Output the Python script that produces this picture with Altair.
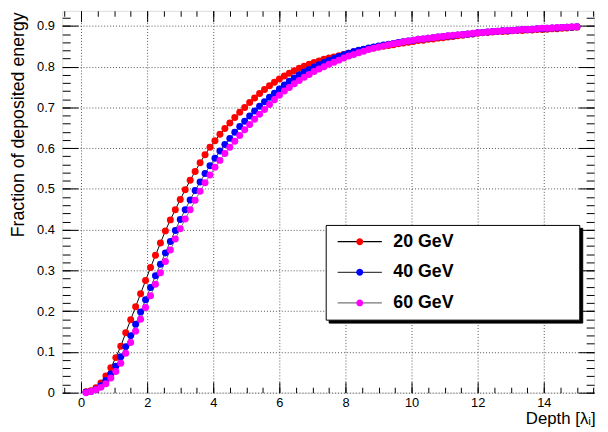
import altair as alt
import pandas as pd

# ---- data ----
DEPTH = [round(0.15 * (i + 1), 2) for i in range(100)]
SERIES = ["20 GeV", "40 GeV", "60 GeV"]

E20 = [0.002, 0.005, 0.012, 0.024, 0.041, 0.061, 0.086, 0.114, 0.147, 0.179,
       0.211, 0.243, 0.275, 0.307, 0.337, 0.367, 0.397, 0.424, 0.449, 0.474,
       0.498, 0.521, 0.543, 0.564, 0.584, 0.602, 0.618, 0.634, 0.648, 0.662,
       0.675, 0.688, 0.700, 0.712, 0.723, 0.734, 0.744, 0.753, 0.762, 0.770,
       0.777, 0.784, 0.790, 0.796, 0.801, 0.806, 0.810, 0.814, 0.818, 0.821,
       0.824, 0.827, 0.830, 0.833, 0.836, 0.839, 0.842, 0.844, 0.846, 0.848,
       0.850, 0.852, 0.854, 0.856, 0.858, 0.860, 0.862, 0.864, 0.865, 0.867,
       0.868, 0.870, 0.871, 0.873, 0.874, 0.876, 0.877, 0.879, 0.880, 0.882,
       0.883, 0.884, 0.885, 0.886, 0.886, 0.887, 0.888, 0.889, 0.889, 0.890,
       0.890, 0.891, 0.891, 0.892, 0.893, 0.893, 0.894, 0.895, 0.896, 0.897]

E40 = [0.001, 0.003, 0.008, 0.017, 0.030, 0.046, 0.065, 0.088, 0.113, 0.140,
       0.168, 0.198, 0.228, 0.258, 0.287, 0.315, 0.343, 0.371, 0.398, 0.425,
       0.449, 0.473, 0.496, 0.517, 0.538, 0.557, 0.575, 0.593, 0.609, 0.624,
       0.639, 0.653, 0.666, 0.679, 0.691, 0.703, 0.714, 0.725, 0.735, 0.745,
       0.755, 0.764, 0.772, 0.780, 0.787, 0.793, 0.799, 0.805, 0.810, 0.815,
       0.820, 0.825, 0.829, 0.833, 0.837, 0.840, 0.843, 0.846, 0.848, 0.851,
       0.853, 0.855, 0.857, 0.859, 0.861, 0.863, 0.865, 0.867, 0.868, 0.870,
       0.871, 0.873, 0.874, 0.875, 0.876, 0.878, 0.879, 0.880, 0.881, 0.883,
       0.884, 0.885, 0.886, 0.887, 0.888, 0.888, 0.889, 0.890, 0.891, 0.891,
       0.892, 0.893, 0.893, 0.894, 0.895, 0.895, 0.896, 0.897, 0.897, 0.898]

E60 = [0.000, 0.003, 0.007, 0.013, 0.022, 0.036, 0.052, 0.072, 0.097, 0.123,
       0.151, 0.180, 0.209, 0.238, 0.266, 0.294, 0.322, 0.350, 0.377, 0.402,
       0.426, 0.449, 0.472, 0.494, 0.515, 0.534, 0.553, 0.570, 0.587, 0.602,
       0.617, 0.631, 0.645, 0.658, 0.671, 0.683, 0.695, 0.707, 0.719, 0.730,
       0.740, 0.749, 0.758, 0.766, 0.774, 0.781, 0.788, 0.794, 0.800, 0.806,
       0.811, 0.816, 0.821, 0.826, 0.830, 0.834, 0.838, 0.842, 0.845, 0.848,
       0.851, 0.854, 0.856, 0.858, 0.861, 0.863, 0.865, 0.867, 0.868, 0.870,
       0.871, 0.873, 0.874, 0.876, 0.877, 0.878, 0.879, 0.880, 0.882, 0.883,
       0.884, 0.885, 0.886, 0.887, 0.888, 0.889, 0.889, 0.890, 0.891, 0.891,
       0.892, 0.893, 0.894, 0.894, 0.895, 0.896, 0.896, 0.897, 0.898, 0.898]

MARKER_COLORS = ["#ff0000", "#0000ff", "#ff00ff"]
LINE_COLORS = ["#000000", "#444444", "#777777"]

X_MAJOR = [0, 2, 4, 6, 8, 10, 12, 14]
X_MINOR = [round(-0.5 + 0.5 * i, 2) for i in range(33)]
Y_MAJOR = [round(0.1 * i, 2) for i in range(10)]
Y_MINOR = [round(0.02 * i, 2) for i in range(47)]

rows = []
for name, vals in zip(SERIES, [E20, E40, E60]):
    for d, v in zip(DEPTH, vals):
        rows.append({"depth": d, "frac": v, "series": name,
                     "series_fill": name, "series_shape": name})
df = pd.DataFrame(rows)

FONT = "Liberation Sans"
SX = alt.Scale(domain=[-0.57, 15.52], nice=False, zero=False)
SY = alt.Scale(domain=[0, 0.937], nice=False, zero=False)


def tick_axis(orient, values, size):
    return alt.Axis(orient=orient, values=values, offset=-size, tickSize=size,
                    ticks=True, labels=False, domain=False, grid=False,
                    title=None, tickColor="black", tickWidth=1)


AX_X_LAB = alt.Axis(orient="bottom", values=X_MAJOR, ticks=False, tickSize=0,
                    domain=False, grid=True, gridDash=[1, 2], gridColor="#555555",
                    gridWidth=1, labelFont=FONT, labelFontSize=13, labelColor="black",
                    labelPadding=4, labelFlush=False, labelOverlap=False, format="~g",
                    title="Depth [λᵢ]", titleFont=FONT, titleFontSize=17,
                    titleFontWeight="normal", titleColor="black", titleX=540, titleY=31,
                    titleAlign="right", titleBaseline="alphabetic")
AX_Y_LAB = alt.Axis(orient="left", values=Y_MAJOR, ticks=False, tickSize=0,
                    domain=False, grid=True, gridDash=[1, 2], gridColor="#555555",
                    gridWidth=1, labelFont=FONT, labelFontSize=13, labelColor="black",
                    labelPadding=8, labelFlush=False, labelOverlap=False, format="~g",
                    title="Fraction of deposited energy", titleFont=FONT,
                    titleFontSize=18, titleFontWeight="normal", titleColor="black",
                    titleX=-53, titleY=1, titleAngle=270, titleAlign="right",
                    titleBaseline="top")

COMMON = dict(orient="none", symbolSize=64, symbolOffset=17.5,
              labelOffset=25, labelFont=FONT, labelFontSize=18,
              labelFontWeight="bold", labelLimit=400, rowPadding=13, padding=8)
LABEL_W = 61  # approx width of a bold 18px "20 GeV" label

LEG_A = alt.Legend(legendX=267, legendY=217, symbolType="M-5.6,0H5.6",
                   symbolStrokeWidth=1.2, fillColor="white", strokeColor="black",
                   labelColor="black", zindex=2,
                   title=".", titleOrient="right", titleFontSize=8,
                   titleColor="white", titlePadding=116, **COMMON)
LEG_B = alt.Legend(legendX=267, legendY=217, title=None,
                   symbolType="M0.875,0A0.875,0.875,0,1,1,-0.875,0A0.875,0.875,0,1,1,0.875,0Z",
                   symbolStrokeWidth=0, labelExpr="''", zindex=3, **COMMON)
LEG_C = alt.Legend(legendX=270, legendY=220, symbolOpacity=0, fillColor="black",
                   strokeColor="black", labelExpr="''", zindex=1,
                   title=".", titleOrient="right", titleFontSize=8,
                   titleColor="black", titlePadding=116 + LABEL_W, **COMMON)

base = alt.Chart(df)

lines = base.mark_line(strokeWidth=1).encode(
    x=alt.X("depth:Q", scale=SX, axis=AX_X_LAB),
    y=alt.Y("frac:Q", scale=SY, axis=AX_Y_LAB),
    stroke=alt.Stroke("series:N", scale=alt.Scale(range=LINE_COLORS), legend=LEG_A),
)

points = base.mark_point(filled=True, size=50, strokeWidth=0, opacity=1).encode(
    x=alt.X("depth:Q", scale=SX, axis=tick_axis("bottom", X_MAJOR, 11)),
    y=alt.Y("frac:Q", scale=SY, axis=tick_axis("left", Y_MAJOR, 16)),
    fill=alt.Fill("series_fill:N", scale=alt.Scale(range=MARKER_COLORS), legend=LEG_B),
)

shadow = base.mark_point(opacity=0).encode(
    x=alt.X("depth:Q", scale=SX, axis=tick_axis("bottom", X_MINOR, 5.5)),
    y=alt.Y("frac:Q", scale=SY, axis=tick_axis("left", Y_MINOR, 8)),
    shape=alt.Shape("series_shape:N", legend=LEG_C),
)

top_major = base.mark_point(opacity=0).encode(
    x=alt.X("depth:Q", scale=SX, axis=tick_axis("top", X_MAJOR, 11)),
    y=alt.Y("frac:Q", scale=SY, axis=tick_axis("right", Y_MAJOR, 16)),
)

top_minor = base.mark_point(opacity=0).encode(
    x=alt.X("depth:Q", scale=SX, axis=tick_axis("top", X_MINOR, 5.5)),
    y=alt.Y("frac:Q", scale=SY, axis=tick_axis("right", Y_MINOR, 8)),
)

chart = (
    alt.layer(lines, points, shadow, top_major, top_minor)
    .resolve_axis(x="independent", y="independent")
    .properties(width=539, height=387,
                autosize=alt.AutoSizeParams(type="none"),
                padding={"left": 55, "top": 0, "right": 6, "bottom": 37})
    .configure_view(stroke="#222222", strokeWidth=1.2)
    .configure(font=FONT, background="white")
)

chart.save("out.html", embed_options={"renderer": "svg", "actions": False})
